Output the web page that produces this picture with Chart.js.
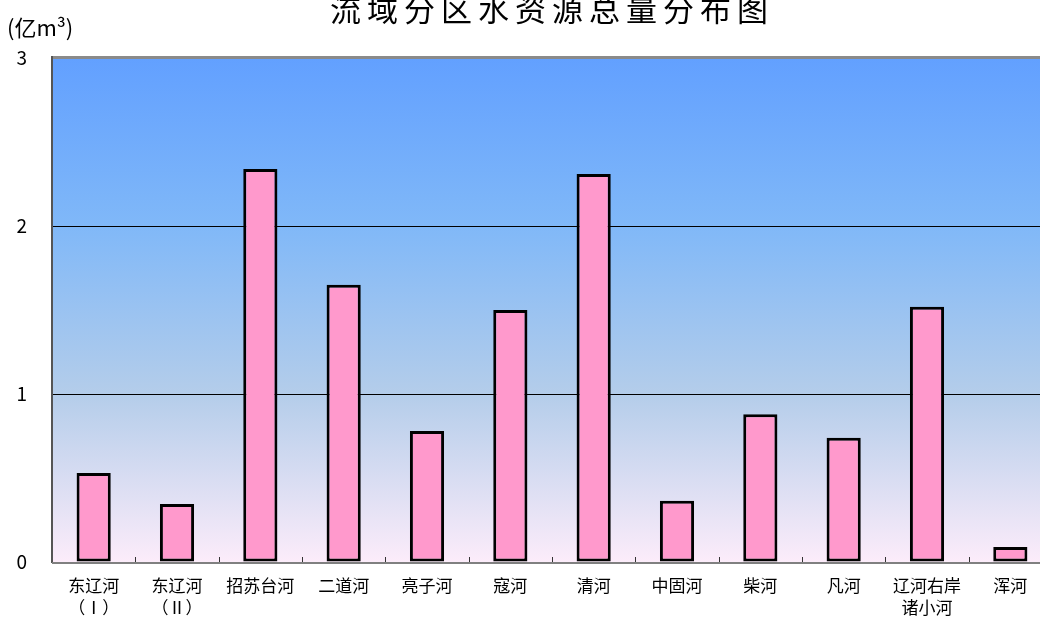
<!DOCTYPE html>
<html>
<head>
<meta charset="utf-8">
<script src="https://cdn.jsdelivr.net/npm/chart.js@4/dist/chart.umd.min.js"></script>
<style>
  html, body { margin: 0; padding: 0; background: #fff; overflow: hidden; }
  #wrap { width: 1040px; height: 617px; overflow: hidden; }
</style>
</head>
<body>
<div id="wrap"><canvas id="chart" width="1052" height="617"></canvas></div>
<script>
// 流域分区水资源总量 (亿m³)
const categories = [
  ['东辽河', '（Ⅰ）'], ['东辽河', '（Ⅱ）'], '招苏台河', '二道河', '亮子河', '寇河',
  '清河', '中固河', '柴河', '凡河', ['辽河右岸', '诸小河'], '浑河'
];
const waterTotal = [0.53, 0.345, 2.34, 1.65, 0.78, 1.50, 2.31, 0.365, 0.88, 0.74, 1.52, 0.09];
const yTicks = [0, 1, 2, 3];

const chartTitle = '流域分区水资源总量分布图';
const unitLabel = '(亿m³)';
const fontFamily = '"Noto Sans CJK SC", "Noto Sans", sans-serif';

// 背景渐变 + 边框 + 内向刻度 + 标题
const decorPlugin = {
    id: 'decor',
    beforeDraw(chart) {
        const { ctx, chartArea: a } = chart;
        const g = ctx.createLinearGradient(0, a.top, 0, a.bottom);
        g.addColorStop(0, '#62a0ff');
        g.addColorStop(0.333, '#80b8f8');
        g.addColorStop(0.667, '#b4cdea');
        g.addColorStop(1, '#fcecfa');
        ctx.save();
        ctx.fillStyle = g;
        ctx.fillRect(a.left, a.top, a.right - a.left, a.bottom - a.top);
        ctx.restore();
    },
    afterDraw(chart) {
        const { ctx, chartArea: a } = chart;
        const x = chart.scales.x;
        ctx.save();
        // 顶部边框
        ctx.strokeStyle = '#8a8a8a';
        ctx.lineWidth = 3;
        ctx.beginPath();
        ctx.moveTo(a.left, a.top - 0.5);
        ctx.lineTo(a.right, a.top - 0.5);
        ctx.stroke();
        // 左轴
        ctx.strokeStyle = '#555';
        ctx.lineWidth = 2;
        ctx.beginPath();
        ctx.moveTo(a.left, a.top - 2);
        ctx.lineTo(a.left, a.bottom + 1);
        ctx.stroke();
        // 底轴
        ctx.strokeStyle = '#808080';
        ctx.beginPath();
        ctx.moveTo(a.left, a.bottom + 1);
        ctx.lineTo(a.right, a.bottom + 1);
        ctx.stroke();
        // 分类分隔刻度（朝内）
        ctx.strokeStyle = '#333';
        ctx.lineWidth = 1;
        for (let i = 0; i < categories.length - 1; i++) {
            const px = Math.round((x.getPixelForValue(i) + x.getPixelForValue(i + 1)) / 2) + 0.5;
            ctx.beginPath();
            ctx.moveTo(px, a.bottom - 5);
            ctx.lineTo(px, a.bottom);
            ctx.stroke();
        }
        // 标题与单位
        ctx.fillStyle = '#000';
        ctx.textBaseline = 'middle';
        ctx.textAlign = 'left';
        ctx.font = '31px ' + fontFamily;
        ctx.letterSpacing = '6px';
        const w = ctx.measureText(chartTitle).width - 6;
        ctx.fillText(chartTitle, 549 - w / 2, 9);
        ctx.letterSpacing = '0px';
        ctx.font = '22px ' + fontFamily;
        ctx.fillText(unitLabel, 7, 28);
        ctx.restore();
    }
};

const ctx = document.getElementById('chart').getContext('2d');
const chart = new Chart(ctx, {
    type: 'bar',
    data: {
        labels: categories,
        datasets: [{
            label: '水资源总量',
            data: waterTotal,
            backgroundColor: '#ff99cc',
            borderColor: '#000',
            borderWidth: 3,
            borderSkipped: false,
            barPercentage: 0.41,
            categoryPercentage: 1
        }]
    },
    options: {
        responsive: false,
        animation: false,
        layout: { padding: { top: 58, right: 0, left: 0, bottom: 0 } },
        plugins: {
            legend: { display: false },
            title: { display: false },
            tooltip: { enabled: false }
        },
        scales: {
            x: {
                offset: true,
                grid: { display: false, drawTicks: false },
                border: { display: false },
                ticks: {
                    color: '#000',
                    font: { family: fontFamily, size: 17, lineHeight: 1.3 },
                    padding: 12,
                    maxRotation: 0,
                    autoSkip: false
                },
                afterFit(scale) { scale.height = 55; }
            },
            y: {
                min: 0,
                max: 3,
                afterBuildTicks(scale) { scale.ticks = yTicks.map(v => ({ value: v })); },
                grid: {
                    drawTicks: false,
                    color: c => (c.tick.value === 1 || c.tick.value === 2) ? '#000' : 'rgba(0,0,0,0)',
                    lineWidth: 1
                },
                border: { display: false },
                ticks: {
                    color: '#000',
                    font: { family: fontFamily, size: 19 },
                    padding: 25
                },
                afterFit(scale) { scale.width = 52; }
            }
        }
    },
    plugins: [decorPlugin]
});
</script>
</body>
</html>
